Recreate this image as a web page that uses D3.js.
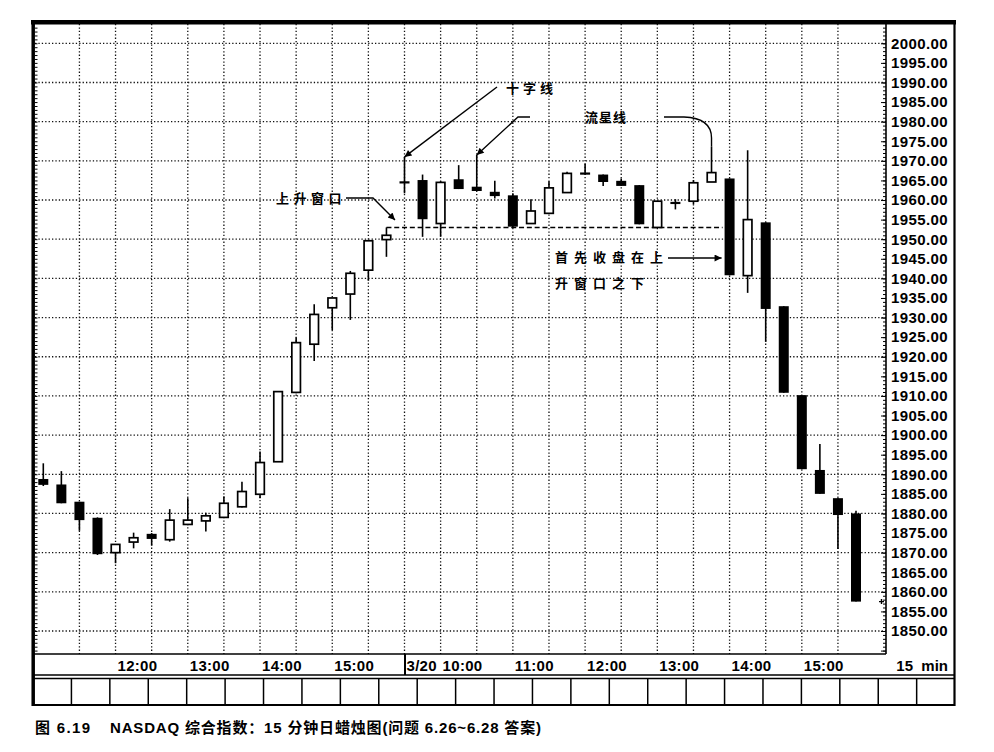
<!DOCTYPE html>
<html><head><meta charset="utf-8">
<script src="https://cdn.jsdelivr.net/npm/d3@7"></script>
<style>body{margin:0;background:#fff}svg{display:block}</style>
</head><body>
<svg id="c" width="994" height="752"></svg>
<script>
// ---- data ----
const times = ["11:00","11:15","11:30","11:45","12:00","12:15","12:30","12:45","13:00","13:15",
  "13:30","13:45","14:00","14:15","14:30","14:45","15:00","15:15","15:30","15:45",
  "3/20 09:30","3/20 09:45","3/20 10:00","3/20 10:15","3/20 10:30","3/20 10:45","3/20 11:00","3/20 11:15",
  "3/20 11:30","3/20 11:45","3/20 12:00","3/20 12:15","3/20 12:30","3/20 12:45","3/20 13:00","3/20 13:15",
  "3/20 13:30","3/20 13:45","3/20 14:00","3/20 14:15","3/20 14:30","3/20 14:45","3/20 15:00","3/20 15:15",
  "3/20 15:30","3/20 15:45"];
const open  = [1888.8,1887.4,1883.0,1878.9,1870.0,1872.7,1874.8,1873.3,1877.2,1878.1,
  1879.0,1881.7,1884.9,1893.2,1910.9,1923.2,1932.5,1936.0,1942.1,1949.9,
  1964.6,1965.1,1954.0,1965.3,1963.4,1962.1,1961.2,1954.0,1956.6,1961.9,
  1966.9,1966.5,1964.9,1963.8,1953.0,1959.4,1959.7,1964.6,1965.5,1940.7,
  1954.3,1932.9,1910.2,1891.1,1883.9,1880.0];
const high  = [1892.8,1890.8,1883.0,1879.0,1872.1,1875.1,1875.0,1881.1,1883.9,1880.2,
  1884.3,1888.1,1895.8,1911.1,1924.9,1933.4,1935.0,1941.9,1949.8,1953.0,
  1971.0,1966.5,1964.8,1968.9,1971.5,1964.9,1961.7,1960.2,1964.8,1967.2,
  1969.3,1966.5,1965.5,1963.8,1959.7,1960.2,1965.1,1973.6,1965.5,1972.7,
  1954.3,1932.9,1910.2,1897.7,1883.9,1880.7];
const low   = [1887.0,1882.6,1875.6,1869.4,1867.3,1871.1,1871.8,1872.8,1877.0,1875.4,
  1879.0,1881.5,1883.9,1893.2,1910.7,1918.9,1926.8,1929.4,1939.4,1945.5,
  1961.7,1950.6,1950.6,1962.8,1962.3,1960.4,1953.0,1954.0,1956.6,1961.9,
  1966.5,1963.6,1963.6,1953.8,1953.0,1957.6,1958.9,1964.6,1940.8,1936.3,
  1923.8,1910.8,1891.3,1885.0,1870.9,1857.5];
const close = [1887.3,1882.6,1878.3,1869.6,1872.1,1873.8,1873.5,1878.3,1878.3,1879.4,
  1882.6,1885.6,1893.0,1911.1,1923.6,1930.8,1935.0,1941.3,1949.6,1951.0,
  1964.4,1955.1,1964.5,1962.8,1962.3,1961.0,1953.2,1957.2,1963.1,1966.8,
  1966.6,1964.6,1963.6,1953.8,1959.7,1959.1,1964.4,1967.0,1940.8,1955.0,
  1932.2,1910.8,1891.3,1885.0,1879.6,1857.5];
const yTickValues = [2000,1995,1990,1985,1980,1975,1970,1965,1960,1955,1950,1945,1940,1935,1930,
  1925,1920,1915,1910,1905,1900,1895,1890,1885,1880,1875,1870,1865,1860,1855,1850];
const xTickKeys = ["12:00","13:00","14:00","15:00","3/20 09:30","3/20 10:00","3/20 11:00","3/20 12:00","3/20 13:00","3/20 14:00","3/20 15:00"];
const xTickText = ["12:00","13:00","14:00","15:00","3/20","10:00","11:00","12:00","13:00","14:00","15:00"];
const windowLevel = 1953.0;
const lastPrice = 1857.5;
const labelDoji = "十字线";
const labelStar = "流星线";
const labelWindow = "上升窗口";
const labelClose1 = "首先收盘在上";
const labelClose2 = "升窗口之下";
const captionA = "图 6.19";
const captionB = "NASDAQ 综合指数：15 分钟日蜡烛图(问题 6.26~6.28 答案)";

// ---- layout ----
const svg = d3.select("#c");
const L = 35, R = 886, T = 24, B = 654;
const x = d3.scalePoint().domain(times).range([43.3, 856]);
const y = d3.scaleLinear().domain([1850, 2000]).range([631, 43.3]);
const latin = "'Liberation Sans', Arial, sans-serif";
const cjk = "'Liberation Sans', 'Noto Sans CJK SC', sans-serif";

// grid
const gridV = times.filter((d, i) => i > 0 && i % 2 === 0);
svg.append("g").selectAll("line").data(gridV).join("line")
  .attr("x1", d => x(d)).attr("x2", d => x(d)).attr("y1", T).attr("y2", B)
  .attr("stroke", "#111").attr("stroke-width", 1.3).attr("stroke-dasharray", "1.3,2.1");
const gridH = yTickValues.filter(v => v % 10 === 0);
svg.append("g").selectAll("line").data(gridH).join("line")
  .attr("x1", L).attr("x2", R).attr("y1", d => y(d)).attr("y2", d => y(d))
  .attr("stroke", "#111").attr("stroke-width", 1.3).attr("stroke-dasharray", "1.3,2.1");

// axis minor ticks
const minor = d3.range(1845, 2005);
const major = minor.filter(v => v % 5 === 0);
function tickAxis(axis, tx, vals, size) {
  const g = svg.append("g").attr("transform", `translate(${tx},0)`)
    .call(axis(y).tickValues(vals).tickSize(size).tickFormat(""));
  g.select(".domain").remove();
  g.selectAll("line").attr("stroke", "#000").attr("stroke-width", 1);
}
tickAxis(d3.axisLeft, R, minor, 3);
tickAxis(d3.axisLeft, R, major, 5);
tickAxis(d3.axisRight, L, minor, 2.5);

// y labels
const yAx = svg.append("g").attr("transform", "translate(948,0)")
  .call(d3.axisLeft(y).tickValues(yTickValues).tickSize(0).tickPadding(0).tickFormat(d3.format(".2f")));
yAx.select(".domain").remove();
yAx.selectAll("text").attr("font-family", latin).attr("font-weight", "bold")
  .attr("font-size", 15).attr("letter-spacing", 0.4).attr("fill", "#000");

// x labels
const xAx = svg.append("g").attr("transform", `translate(0,${B})`)
  .call(d3.axisBottom(x).tickValues(xTickKeys).tickSize(0)
    .tickFormat(d => xTickText[xTickKeys.indexOf(d)]));
xAx.select(".domain").remove();
xAx.selectAll("text").attr("text-anchor", "start").attr("x", 1.5).attr("y", 12).attr("dy", "0.36em")
  .attr("font-family", latin).attr("font-weight", "bold").attr("font-size", 15)
  .attr("letter-spacing", 0.3).attr("fill", "#000");
svg.append("text").attr("x", 913).attr("y", 666).attr("dy", "0.36em").attr("text-anchor", "end")
  .attr("font-family", latin).attr("font-weight", "bold").attr("font-size", 15).text("15");
svg.append("text").attr("x", 948).attr("y", 666).attr("dy", "0.36em").attr("text-anchor", "end")
  .attr("font-family", latin).attr("font-weight", "bold").attr("font-size", 15).text("min");

// frame
const fr = svg.append("g").attr("stroke", "#000").attr("fill", "none");
fr.append("line").attr("x1", 31).attr("x2", 956).attr("y1", 22.2).attr("y2", 22.2).attr("stroke-width", 4.5);
fr.append("line").attr("x1", 33.2).attr("x2", 33.2).attr("y1", 20).attr("y2", 706).attr("stroke-width", 3.5);
fr.append("line").attr("x1", 954.5).attr("x2", 954.5).attr("y1", 20).attr("y2", 706).attr("stroke-width", 2.2);
fr.append("line").attr("x1", R).attr("x2", R).attr("y1", 22).attr("y2", B).attr("stroke-width", 1.6);
fr.append("line").attr("x1", 33).attr("x2", R).attr("y1", B).attr("y2", B).attr("stroke-width", 1.6);
fr.append("line").attr("x1", 33).attr("x2", 955).attr("y1", 675).attr("y2", 675).attr("stroke-width", 1.4);
fr.append("line").attr("x1", 33).attr("x2", 955).attr("y1", 678.5).attr("y2", 678.5).attr("stroke-width", 1.4);
fr.append("line").attr("x1", 33).attr("x2", 955).attr("y1", 705).attr("y2", 705).attr("stroke-width", 2);
fr.append("line").attr("x1", x(times[20]) + 0.5).attr("x2", x(times[20]) + 0.5).attr("y1", B).attr("y2", 675).attr("stroke-width", 2);
fr.selectAll(".cell").data(d3.range(1, 24)).join("line").attr("class", "cell")
  .attr("x1", d => 33 + d * 38.42).attr("x2", d => 33 + d * 38.42)
  .attr("y1", 678.5).attr("y2", 705).attr("stroke-width", 1.5);

// window dashed line
svg.append("line").attr("x1", x(times[19])).attr("x2", x(times[38]) - 7)
  .attr("y1", y(windowLevel)).attr("y2", y(windowLevel))
  .attr("stroke", "#000").attr("stroke-width", 1.6).attr("stroke-dasharray", "5,2.8");

// candles
const data = times.map((t, i) => ({ t, o: open[i], h: high[i], l: low[i], c: close[i] }));
const cg = svg.append("g");
cg.selectAll(".wick").data(data).join("line").attr("class", "wick")
  .attr("x1", d => x(d.t)).attr("x2", d => x(d.t))
  .attr("y1", d => y(d.h)).attr("y2", d => y(d.l))
  .attr("stroke", "#000").attr("stroke-width", 1.6);
cg.selectAll(".body").data(data).join("rect").attr("class", "body")
  .each(function (d) {
    const sel = d3.select(this);
    const top = y(Math.max(d.o, d.c)), bot = y(Math.min(d.o, d.c));
    if (Math.abs(d.o - d.c) < 0.5) {
      sel.attr("x", x(d.t) - 5).attr("width", 10).attr("y", (top + bot) / 2 - 1.1).attr("height", 2.2)
        .attr("fill", "#000");
    } else if (d.c < d.o) {
      sel.attr("x", x(d.t) - 5).attr("width", 10).attr("y", top).attr("height", bot - top)
        .attr("fill", "#000");
    } else {
      sel.attr("x", x(d.t) - 4.3).attr("width", 8.6).attr("y", top).attr("height", bot - top)
        .attr("fill", "#fff").attr("stroke", "#000").attr("stroke-width", 1.7);
    }
  });

// last price marker
const lp = y(lastPrice);
svg.append("path").attr("d", `M${R - 7},${lp} h5 M${R - 4.5},${lp - 2.5} v5`)
  .attr("stroke", "#000").attr("stroke-width", 1.4);

// annotations
const defs = svg.append("defs");
defs.append("marker").attr("id", "ah").attr("viewBox", "0 0 10 10").attr("refX", 10).attr("refY", 5)
  .attr("markerWidth", 10).attr("markerHeight", 7).attr("markerUnits", "userSpaceOnUse")
  .attr("orient", "auto").append("path").attr("d", "M0,0 L10,5 L0,10 z").attr("fill", "#000");
const ag = svg.append("g").attr("fill", "none").attr("stroke", "#000").attr("stroke-width", 1.4);
ag.append("path").attr("d", `M497,87 L${x(times[20])},${y(high[20])}`).attr("marker-end", "url(#ah)");
ag.append("path").attr("d", `M530,117 L518,117 L${x(times[24])},${y(high[24])}`).attr("marker-end", "url(#ah)");
ag.append("path").attr("d", `M664,117 L684,117 Q${x(times[37])},118 ${x(times[37])},138 L${x(times[37])},${y(high[37])}`);
ag.append("path").attr("d", `M346,198 L373,198 L395,220`).attr("marker-end", "url(#ah)");
ag.append("path").attr("d", `M668,258 L${x(times[38]) - 8},258`).attr("marker-end", "url(#ah)");

function note(txt, tx, ty, ls) {
  svg.append("text").attr("x", tx).attr("y", ty).attr("dy", "0.36em")
    .attr("font-family", "'Noto Sans CJK SC', sans-serif").attr("font-weight", 600)
    .attr("font-size", 13).attr("letter-spacing", ls).attr("fill", "#000").text(txt);
}
note(labelDoji, 506, 88, 4);
note(labelStar, 585, 117, 1);
note(labelWindow, 276, 198, 4.5);
note(labelClose1, 555, 257, 6);
note(labelClose2, 555, 283, 6);

// caption
svg.append("text").attr("x", 35).attr("y", 728).attr("dy", "0.36em")
  .attr("font-family", cjk).attr("font-weight", "bold").attr("font-size", 15)
  .attr("textLength", 55).attr("lengthAdjust", "spacing").text(captionA);
svg.append("text").attr("x", 110).attr("y", 728).attr("dy", "0.36em")
  .attr("font-family", cjk).attr("font-weight", "bold").attr("font-size", 15)
  .attr("textLength", 431).attr("lengthAdjust", "spacing").text(captionB);
</script>
</body></html>
